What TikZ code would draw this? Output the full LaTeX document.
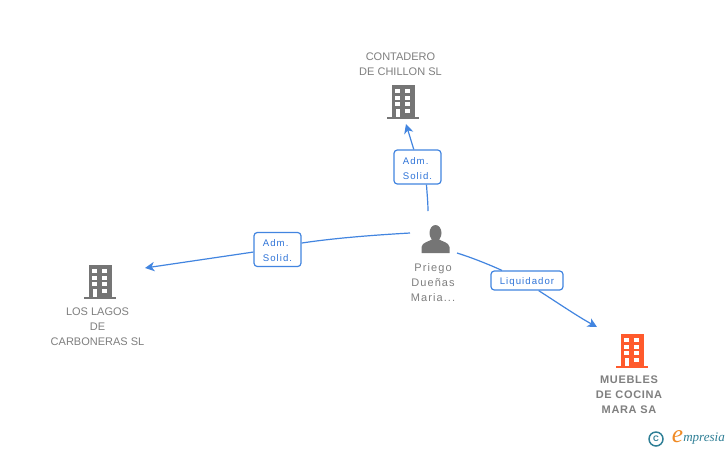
\documentclass[tikz,border=0pt]{standalone}
\usepackage{fontspec}
\setmainfont{Liberation Sans}
\newfontfamily\spaced[LetterSpace=10]{Liberation Sans}
\newfontfamily\labelspaced[LetterSpace=11]{Liberation Sans}
\newfontfamily\slight{Liberation Sans}
\newfontfamily\slightbold[LetterSpace=6]{Liberation Sans Bold}
\newfontfamily\logofont{Liberation Serif Italic}
\usetikzlibrary{arrows.meta}
\definecolor{edgeblue}{HTML}{4285E0}
\definecolor{labelblue}{HTML}{2F74D8}
\definecolor{icongray}{HTML}{757575}
\definecolor{textgray}{HTML}{7F7F7F}
\definecolor{iconorange}{HTML}{FF5A2C}
\definecolor{logoteal}{HTML}{2F7F96}
\definecolor{logoorange}{HTML}{F08A24}
\newcommand{\lowerline}{\rule{0pt}{7.2pt}}
\tikzset{
  x=0.75pt,y=-0.75pt,
  bldg/.style={minimum width=24pt,minimum height=25.5pt,inner sep=0pt,outer sep=0pt,
    path picture={
      \begin{scope}[shift={(path picture bounding box.center)}]
        \fill[#1] (-11,-17) rectangle (11.5,15);
        \fill[#1] (-16,15) rectangle (16,17);
        \fill[white] (-8,-13) rectangle (-3,-9);
        \fill[white] (2,-13) rectangle (7,-9);
        \fill[white] (-8,-6) rectangle (-3,-2);
        \fill[white] (2,-6) rectangle (7,-2);
        \fill[white] (-8,0) rectangle (-3,4);
        \fill[white] (2,0) rectangle (7,4);
        \fill[white] (-7,7) rectangle (-3,15);
        \fill[white] (2,7) rectangle (7,11);
      \end{scope}}},
  personicon/.style={minimum width=21pt,minimum height=21pt,inner sep=0pt,outer sep=0pt,
    path picture={
      \begin{scope}[shift={(path picture bounding box.center)}]
        \fill[icongray] (0,-6) ellipse (6 and 8);
        \fill[icongray] (-14,14) -- (-14,8) .. controls (-13,3) and (-7,3) .. (-3,0) -- (3,0)
          .. controls (7,3) and (13,3) .. (14,8) -- (14,14) -- cycle;
      \end{scope}}},
  rolelabel/.style={draw=edgeblue,line width=0.9pt,rounded corners=2.5pt,fill=white,
    text=labelblue,font=\labelspaced\fontsize{7.2pt}{11.25pt}\selectfont,align=left,inner sep=0pt},
  nametext/.style={text=textgray,font=\slight\fontsize{8.25pt}{11.25pt}\selectfont,align=center,inner sep=0pt},
  persontext/.style={text=textgray,font=\spaced\fontsize{8.25pt}{11.25pt}\selectfont,align=center,inner sep=0pt},
  boldtext/.style={text=textgray,font=\slightbold\fontsize{8.25pt}{11.25pt}\selectfont,align=center,inner sep=0pt},
  link/.style={draw=edgeblue,line width=0.9pt},
  tip/.style={-{Stealth[length=7pt,width=7pt,inset=2pt]}}
}
\begin{document}
\begin{tikzpicture}
\useasboundingbox (0,0) rectangle (728,450);
\fill[white] (0,0) rectangle (728,450);

\node[bldg=icongray] (contadero) at (403,102) {};
\node[bldg=icongray] (lagos) at (100,282) {};
\node[bldg=iconorange] (muebles) at (632,351) {};
\node[personicon] (priego) at (435.5,239) {};

\node[nametext] (contaderotext) at (400.5,64) {CONTADERO\\DE CHILLON SL};
\node[nametext] (lagostext) at (97.5,326.5) {LOS LAGOS\\DE\\CARBONERAS SL};
\node[persontext] (priegotext) at (433,282.2) {Priego\\Dueñas\\Maria...};
\node[boldtext] (mueblestext) at (629,395) {MUEBLES\\DE COCINA\\MARA SA};

\coordinate (fromtop) at (428,211);
\coordinate (fromleft) at (410,233);
\coordinate (fromright) at (457,253);
\coordinate (totop) at (406,124);
\coordinate (toleft) at (145,268);
\coordinate (toright) at (597,327);

\node[rolelabel,minimum width=35.25pt,minimum height=25.5pt] (admtop) at (417.5,167) {\lowerline Adm.\\Solid.};
\node[rolelabel,minimum width=35.25pt,minimum height=25.5pt] (admleft) at (277.5,249.5) {\lowerline Adm.\\Solid.};
\node[rolelabel,minimum width=54pt,minimum height=14.25pt] (liq) at (527,280.5) {\lowerline Liquidador};

\draw[link] (fromtop) .. controls (428,203) and (427,193) .. (admtop.-63);
\draw[link,tip] (admtop.102) -- (totop);
\draw[link] (fromleft) .. controls (375,235) and (335,238) .. (admleft.15);
\draw[link,tip] (admleft.186) -- (toleft);
\draw[link] (fromright) .. controls (473,258) and (490,265) .. (liq.158);
\draw[link,tip] (liq.-41) .. controls (558,303) and (577,316) .. (toright);

\node[circle,draw=logoteal,line width=1.1pt,text=logoteal,minimum size=10.5pt,inner sep=0pt,font=\bfseries\fontsize{6pt}{6pt}\selectfont] (copyr) at (656,439) {C};
\node[inner sep=0pt,text=logoorange,font=\logofont\fontsize{19pt}{19pt}\selectfont] (logoe) at (677.5,437) {e};
\node[inner sep=0pt,text=logoteal,anchor=west,font=\logofont\fontsize{9.8pt}{10pt}\selectfont] (logorest) at (683,439) {mpresia};
\end{tikzpicture}
\end{document}
